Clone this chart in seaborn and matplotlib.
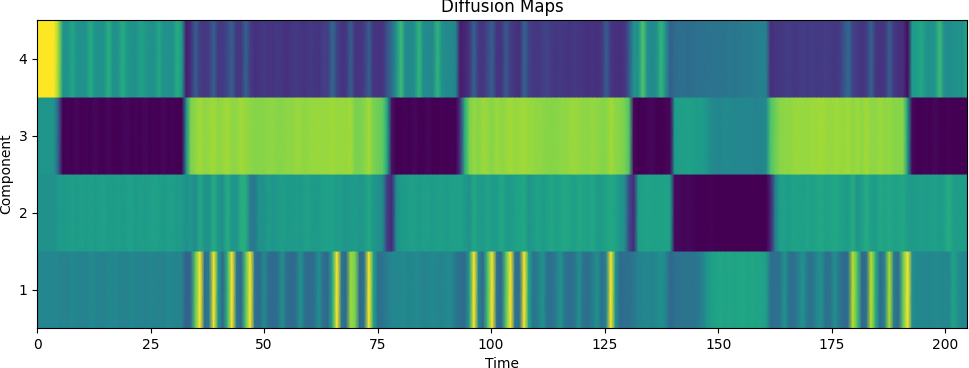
import numpy as np
import matplotlib
matplotlib.use('Agg')
import matplotlib.pyplot as plt
import matplotlib.transforms as mtrans
import seaborn as sns

# values, as position on the colour scale (0..1), one per time step
component_1 = [
    .46, .46, .46, .46, .46, .46, .44, .44, .47, .46,
    .44, .44, .47, .46, .44, .44, .47, .46, .46, .44,
    .44, .47, .45, .44, .44, .46, .45, .44, .44, .47,
    .46, .45, .45, .30, .35, .75, 1.0, .36, .42, 1.0,
    .52, .33, .65, 1.0, .40, .33, .72, 1.0, .38, .34,
    .48, .36, .34, .36, .50, .36, .34, .36, .52, .36,
    .35, .36, .50, .36, .34, .60, 1.0, .40, .34, .85,
    .80, .33, .40, 1.0, .58, .36, .38, .42, .46, .46,
    .47, .47, .45, .47, .47, .44, .46, .47, .46, .45,
    .47, .47, .40, .36, .35, .55, 1.0, .45, .34, .70,
    1.0, .38, .33, .72, 1.0, .38, .36, 1.0, .58, .38,
    .42, .52, .38, .36, .42, .52, .38, .36, .38, .50,
    .38, .36, .42, .50, .37, .45, 1.0, .52, .35, .36,
    .36, .40, .44, .46, .47, .45, .47, .50, .46, .33,
    .37, .38, .38, .38, .38, .40, .44, .52, .56, .58,
    .59, .58, .59, .58, .59, .60, .58, .59, .58, .58,
    .56, .36, .36, .38, .52, .38, .36, .42, .52, .40,
    .37, .46, .50, .38, .37, .50, .40, .34, .36, .90,
    .70, .34, .36, .90, .62, .34, .45, .88, .42, .34,
    .75, 1.0, .50, .46, .47, .46, .46, .47, .47, .46,
    .46, .58, .50, .46, .47,
]
component_2 = [
    .50, .50, .50, .50, .50, .54, .54, .55, .56, .55,
    .56, .55, .56, .55, .56, .57, .55, .55, .56, .55,
    .56, .57, .55, .56, .55, .56, .57, .56, .55, .56,
    .56, .55, .55, .51, .53, .48, .60, .52, .50, .62,
    .53, .50, .62, .53, .52, .62, .62, .42, .40, .52,
    .50, .55, .52, .54, .56, .54, .54, .55, .54, .56,
    .56, .54, .55, .56, .57, .57, .55, .55, .53, .54,
    .55, .53, .54, .60, .53, .50, .48, .18, .12, .48,
    .54, .55, .56, .56, .55, .56, .56, .55, .56, .56,
    .55, .56, .56, .57, .55, .50, .60, .55, .54, .58,
    .55, .55, .60, .55, .54, .57, .58, .60, .52, .54,
    .58, .55, .56, .60, .56, .58, .60, .58, .56, .60,
    .58, .57, .60, .55, .55, .58, .60, .58, .53, .50,
    .22, .12, .55, .57, .58, .57, .57, .57, .58, .56,
    .02, .02, .01, .02, .01, .00, .00, .00, .01, .00,
    .00, .00, .00, .00, .00, .00, .00, .00, .00, .00,
    .00, .10, .42, .56, .57, .55, .58, .57, .56, .58,
    .57, .58, .60, .57, .58, .60, .58, .56, .55, .62,
    .52, .56, .62, .56, .55, .60, .58, .60, .57, .58,
    .60, .55, .54, .55, .56, .55, .56, .57, .55, .56,
    .62, .56, .55, .56, .55,
]
component_3 = [
    .52, .52, .52, .52, .52, .30, .00, .01, .00, .02,
    .00, .01, .00, .02, .00, .00, .02, .00, .00, .01,
    .02, .00, .01, .00, .02, .00, .01, .00, .02, .00,
    .01, .00, .00, .50, .80, .83, .86, .83, .84, .86,
    .83, .84, .86, .83, .83, .86, .84, .83, .82, .82,
    .82, .83, .83, .82, .82, .83, .83, .84, .84, .83,
    .84, .84, .85, .84, .84, .86, .84, .85, .84, .86,
    .80, .80, .82, .86, .80, .78, .76, .60, .05, .00,
    .00, .01, .00, .02, .00, .00, .02, .00, .00, .01,
    .00, .01, .00, .15, .62, .80, .84, .82, .85, .84,
    .82, .85, .83, .84, .86, .84, .85, .86, .84, .84,
    .83, .83, .82, .82, .82, .83, .83, .84, .85, .84,
    .83, .83, .84, .83, .82, .82, .86, .83, .82, .80,
    .72, .02, .00, .00, .01, .02, .00, .00, .01, .02,
    .55, .56, .56, .57, .56, .55, .55, .52, .48, .47,
    .46, .48, .47, .46, .46, .47, .46, .46, .45, .46,
    .48, .72, .78, .82, .83, .83, .84, .85, .84, .84,
    .85, .85, .86, .85, .84, .85, .85, .84, .86, .83,
    .85, .83, .86, .83, .83, .85, .83, .84, .82, .82,
    .82, .55, .02, .00, .00, .01, .00, .02, .00, .00,
    .01, .00, .00, .00, .01,
]
component_4 = [
    1.0, 1.0, 1.0, 1.0, 1.0, .85, .52, .50, .60, .52,
    .50, .50, .62, .52, .50, .52, .63, .50, .50, .62,
    .54, .50, .50, .58, .54, .50, .50, .60, .50, .50,
    .50, .62, .55, .08, .14, .30, .18, .16, .18, .30,
    .17, .17, .22, .30, .16, .16, .32, .18, .14, .15,
    .17, .15, .15, .17, .15, .14, .16, .17, .16, .15,
    .17, .16, .15, .18, .18, .34, .20, .15, .16, .30,
    .15, .15, .18, .30, .15, .15, .15, .25, .35, .50,
    .68, .48, .47, .50, .66, .48, .48, .47, .65, .50,
    .47, .48, .45, .08, .10, .15, .32, .17, .15, .22,
    .30, .15, .15, .28, .18, .15, .14, .32, .20, .16,
    .16, .18, .20, .17, .16, .17, .16, .15, .17, .16,
    .15, .14, .15, .14, .16, .30, .16, .14, .14, .15,
    .28, .50, .50, .72, .50, .47, .50, .66, .50, .30,
    .35, .36, .36, .35, .36, .37, .37, .38, .38, .39,
    .38, .39, .40, .39, .40, .42, .41, .42, .43, .44,
    .43, .14, .15, .16, .17, .18, .16, .17, .18, .17,
    .18, .17, .17, .18, .17, .16, .17, .25, .34, .20,
    .17, .15, .18, .32, .16, .15, .16, .30, .17, .14,
    .14, .03, .55, .55, .60, .52, .50, .52, .68, .50,
    .48, .50, .52, .50, .60,
]
components = [component_1, component_2, component_3, component_4]
component_ticks = [1, 2, 3, 4]
time_ticks = [0, 25, 50, 75, 100, 125, 150, 175, 200]

t_end = 204.8
t_shift = 0.3

fig, ax = plt.subplots(figsize=(9.69, 3.68), dpi=100)

# one heatmap per component, smooth along time and sharp between the rows
for i, row in enumerate(components):
    data = np.array([row, row])
    sns.heatmap(data, ax=ax, cmap='viridis', vmin=0, vmax=1, cbar=False,
                xticklabels=False, yticklabels=False, shading='gouraud')
    mesh = ax.collections[-1]
    stretch = mtrans.Affine2D().scale((t_end + t_shift) / (len(row) - 1), 1).translate(-t_shift, i + 0.5)
    mesh.set_transform(stretch + ax.transData)

ax.set_xlim(0, t_end)
ax.set_ylim(0.5, 4.5)
ax.set_xticks(time_ticks)
ax.set_xticklabels(time_ticks)
ax.set_yticks(component_ticks)
ax.set_yticklabels(component_ticks, rotation=0)
ax.tick_params(axis='both', length=3.5, width=0.8, labelsize=10, color='black', labelcolor='black')
for spine in ax.spines.values():
    spine.set_visible(True)
    spine.set_linewidth(0.8)
    spine.set_color('black')
ax.set_xlabel('Time', fontsize=10)
ax.set_ylabel('Component', fontsize=10)
ax.set_title('Diffusion Maps', fontsize=12)

fig.subplots_adjust(left=37 / 969, right=967 / 969, top=1 - 20 / 368, bottom=1 - 328 / 368)
fig.savefig('out.png', dpi=100)
